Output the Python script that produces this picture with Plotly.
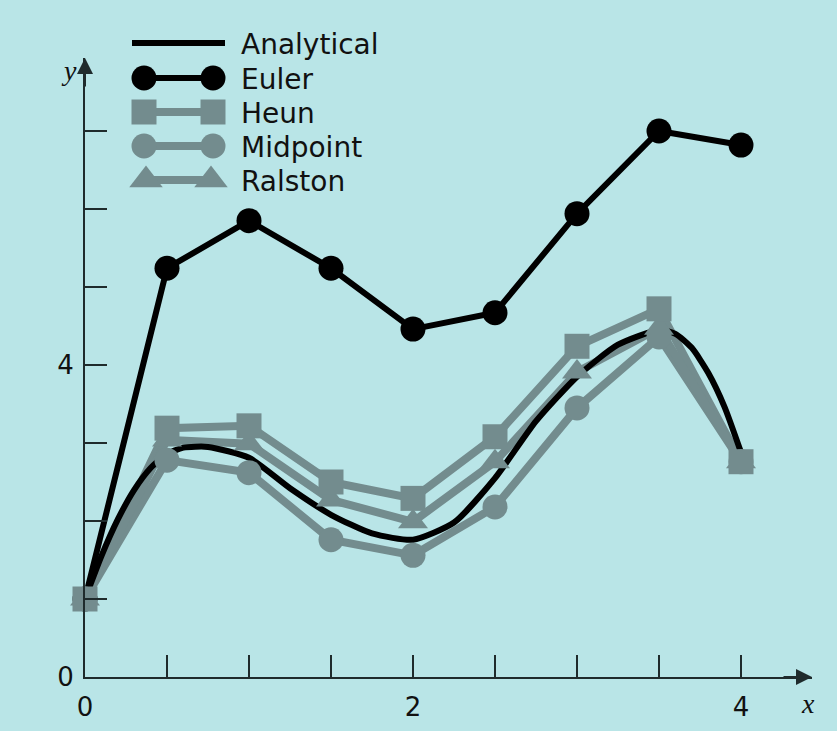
import plotly.graph_objects as go

# ---------------- data ----------------
x_steps = [0, 0.5, 1.0, 1.5, 2.0, 2.5, 3.0, 3.5, 4.0]
euler    = [1.0, 5.24, 5.85, 5.24, 4.46, 4.67, 5.94, 7.00, 6.82]
heun     = [1.0, 3.19, 3.22, 2.50, 2.29, 3.08, 4.24, 4.72, 2.76]
midpoint = [1.0, 2.78, 2.62, 1.76, 1.56, 2.18, 3.45, 4.36, 2.76]
ralston  = [1.0, 3.04, 2.99, 2.27, 1.99, 2.76, 3.91, 4.47, 2.76]

x_exact = [0, 0.1, 0.2, 0.3, 0.4, 0.5, 0.6, 0.75, 1.0, 1.25, 1.5, 1.75, 2.0, 2.25,
           2.5, 2.75, 3.0, 3.25, 3.5, 3.6, 3.7, 3.8, 3.9, 4.0]
y_exact = [1.0, 1.55, 2.02, 2.40, 2.68, 2.86, 2.94, 2.95, 2.81, 2.42, 2.08, 1.84,
           1.76, 1.98, 2.55, 3.28, 3.85, 4.26, 4.45, 4.40, 4.22, 3.90, 3.46, 2.88]

x_tickvals = [0, 0.5, 1, 1.5, 2, 2.5, 3, 3.5, 4]
x_ticktext = ["0", "", "", "", "2", "", "", "", "4"]
y_tickvals = [0, 1, 2, 3, 4, 5, 6, 7]
y_ticktext = ["0", "", "", "", "4", "", "", ""]

legend_names = ["Analytical", "Euler", "Heun", "Midpoint", "Ralston"]

# ---------------- styles ----------------
BG = "#b9e5e7"
GRAY = "#738c8e"
AX = "#1f2b2c"
FONT = "DejaVu Sans"

W, H = 837, 731
AX_L, AX_R, AX_T, AX_B = 85, 812, 58, 677   # pixel box of the data axes
PX_PER_X = 164.0
PX_PER_Y = 78.0
x_max = (AX_R - AX_L) / PX_PER_X
y_max = (AX_B - AX_T) / PX_PER_Y

gray_styles = [
    (heun, "square", 25),
    (midpoint, "circle", 25),
    (ralston, "triangle-up", 26),
]

fig = go.Figure()

# gray method lines (under the analytical curve)
for ys, sym, sz in gray_styles:
    fig.add_trace(go.Scatter(x=x_steps, y=ys, mode="lines",
                             line=dict(color=GRAY, width=8),
                             showlegend=False, hoverinfo="skip"))

# analytical curve
fig.add_trace(go.Scatter(x=x_exact, y=y_exact, mode="lines",
                         line=dict(color="black", width=6, shape="spline", smoothing=0.6),
                         showlegend=False))

# Euler
fig.add_trace(go.Scatter(x=x_steps, y=euler, mode="lines+markers",
                         line=dict(color="black", width=6),
                         marker=dict(symbol="circle", size=25, color="black"),
                         cliponaxis=False, showlegend=False))

# gray markers on top (midpoint, ralston, then heun on top)
for idx in [1, 2, 0]:
    ys, sym, sz = gray_styles[idx]
    fig.add_trace(go.Scatter(x=x_steps, y=ys, mode="markers",
                             marker=dict(symbol=sym, size=sz, color=GRAY, line=dict(width=0)),
                             cliponaxis=False, showlegend=False))

# ---------------- custom legend on a full-page pixel overlay axis ----------------
rows = [43, 78, 112, 146, 180]
leg_specs = [
    ("black", None, 0, 6, 132, 225),
    ("black", "circle", 25, 6, 144, 213),
    (GRAY, "square", 25, 8, 144, 213),
    (GRAY, "circle", 25, 8, 144, 213),
    (GRAY, "triangle-up", 29, 8, 146, 211),
]
for (col, sym, sz, lw, a, b), yy, name in zip(leg_specs, rows, legend_names):
    fig.add_trace(go.Scatter(x=[a, b], y=[yy, yy], xaxis="x2", yaxis="y2",
                             mode="lines" if sym is None else "lines+markers",
                             line=dict(color=col, width=lw),
                             marker=dict(symbol=sym or "circle", size=sz, color=col),
                             cliponaxis=False, showlegend=False, hoverinfo="skip"))
    fig.add_annotation(x=239, y=yy + 1, xref="x2", yref="y2", text=name,
                       showarrow=False, xanchor="left", yanchor="middle",
                       font=dict(family=FONT, size=28, color="#111"))

# axis arrows
fig.add_annotation(x=0, y=1, xref="x domain", yref="y domain", ax=0, ay=30,
                   showarrow=True, arrowhead=2,
                   arrowsize=1.6, arrowwidth=2, arrowcolor=AX, text="", standoff=0)
fig.add_annotation(x=1, y=0, xref="x domain", yref="y domain", ax=-30, ay=0,
                   showarrow=True, arrowhead=2,
                   arrowsize=1.6, arrowwidth=2, arrowcolor=AX, text="", standoff=0)

# axis titles
fig.add_annotation(x=69, y=70, xref="x2", yref="y2", text="<i>y</i>", showarrow=False,
                   font=dict(family="Liberation Serif", size=28, color="#111"))
fig.add_annotation(x=808, y=703, xref="x2", yref="y2", text="<i>x</i>", showarrow=False,
                   font=dict(family="Liberation Serif", size=28, color="#111"))

fig.update_layout(
    width=W, height=H,
    paper_bgcolor=BG, plot_bgcolor="rgba(0,0,0,0)",
    margin=dict(l=0, r=0, t=0, b=0, autoexpand=False),
    showlegend=False,
    xaxis=dict(domain=[AX_L / W, AX_R / W], anchor="y",
               range=[0, x_max], showgrid=False, zeroline=False,
               showline=True, linecolor=AX, linewidth=2,
               ticks="inside", ticklen=22, tickwidth=2, tickcolor=AX,
               tickvals=x_tickvals, ticktext=x_ticktext,
               tickfont=dict(family=FONT, size=26, color="#111"),
               ticklabelstandoff=6),
    yaxis=dict(domain=[1 - AX_B / H, 1 - AX_T / H], anchor="x",
               range=[0, y_max], showgrid=False, zeroline=False,
               showline=True, linecolor=AX, linewidth=2,
               ticks="inside", ticklen=22, tickwidth=2, tickcolor=AX,
               tickvals=y_tickvals, ticktext=y_ticktext,
               tickfont=dict(family=FONT, size=26, color="#111"),
               ticklabelstandoff=4),
    xaxis2=dict(domain=[0, 1], range=[0, W], anchor="y2", visible=False,
                fixedrange=True),
    yaxis2=dict(domain=[0, 1], range=[H, 0], anchor="x2", visible=False,
                fixedrange=True),
)

fig.write_html("out.html", config={"displayModeBar": False},
               post_script="document.body.style.margin='0';")
